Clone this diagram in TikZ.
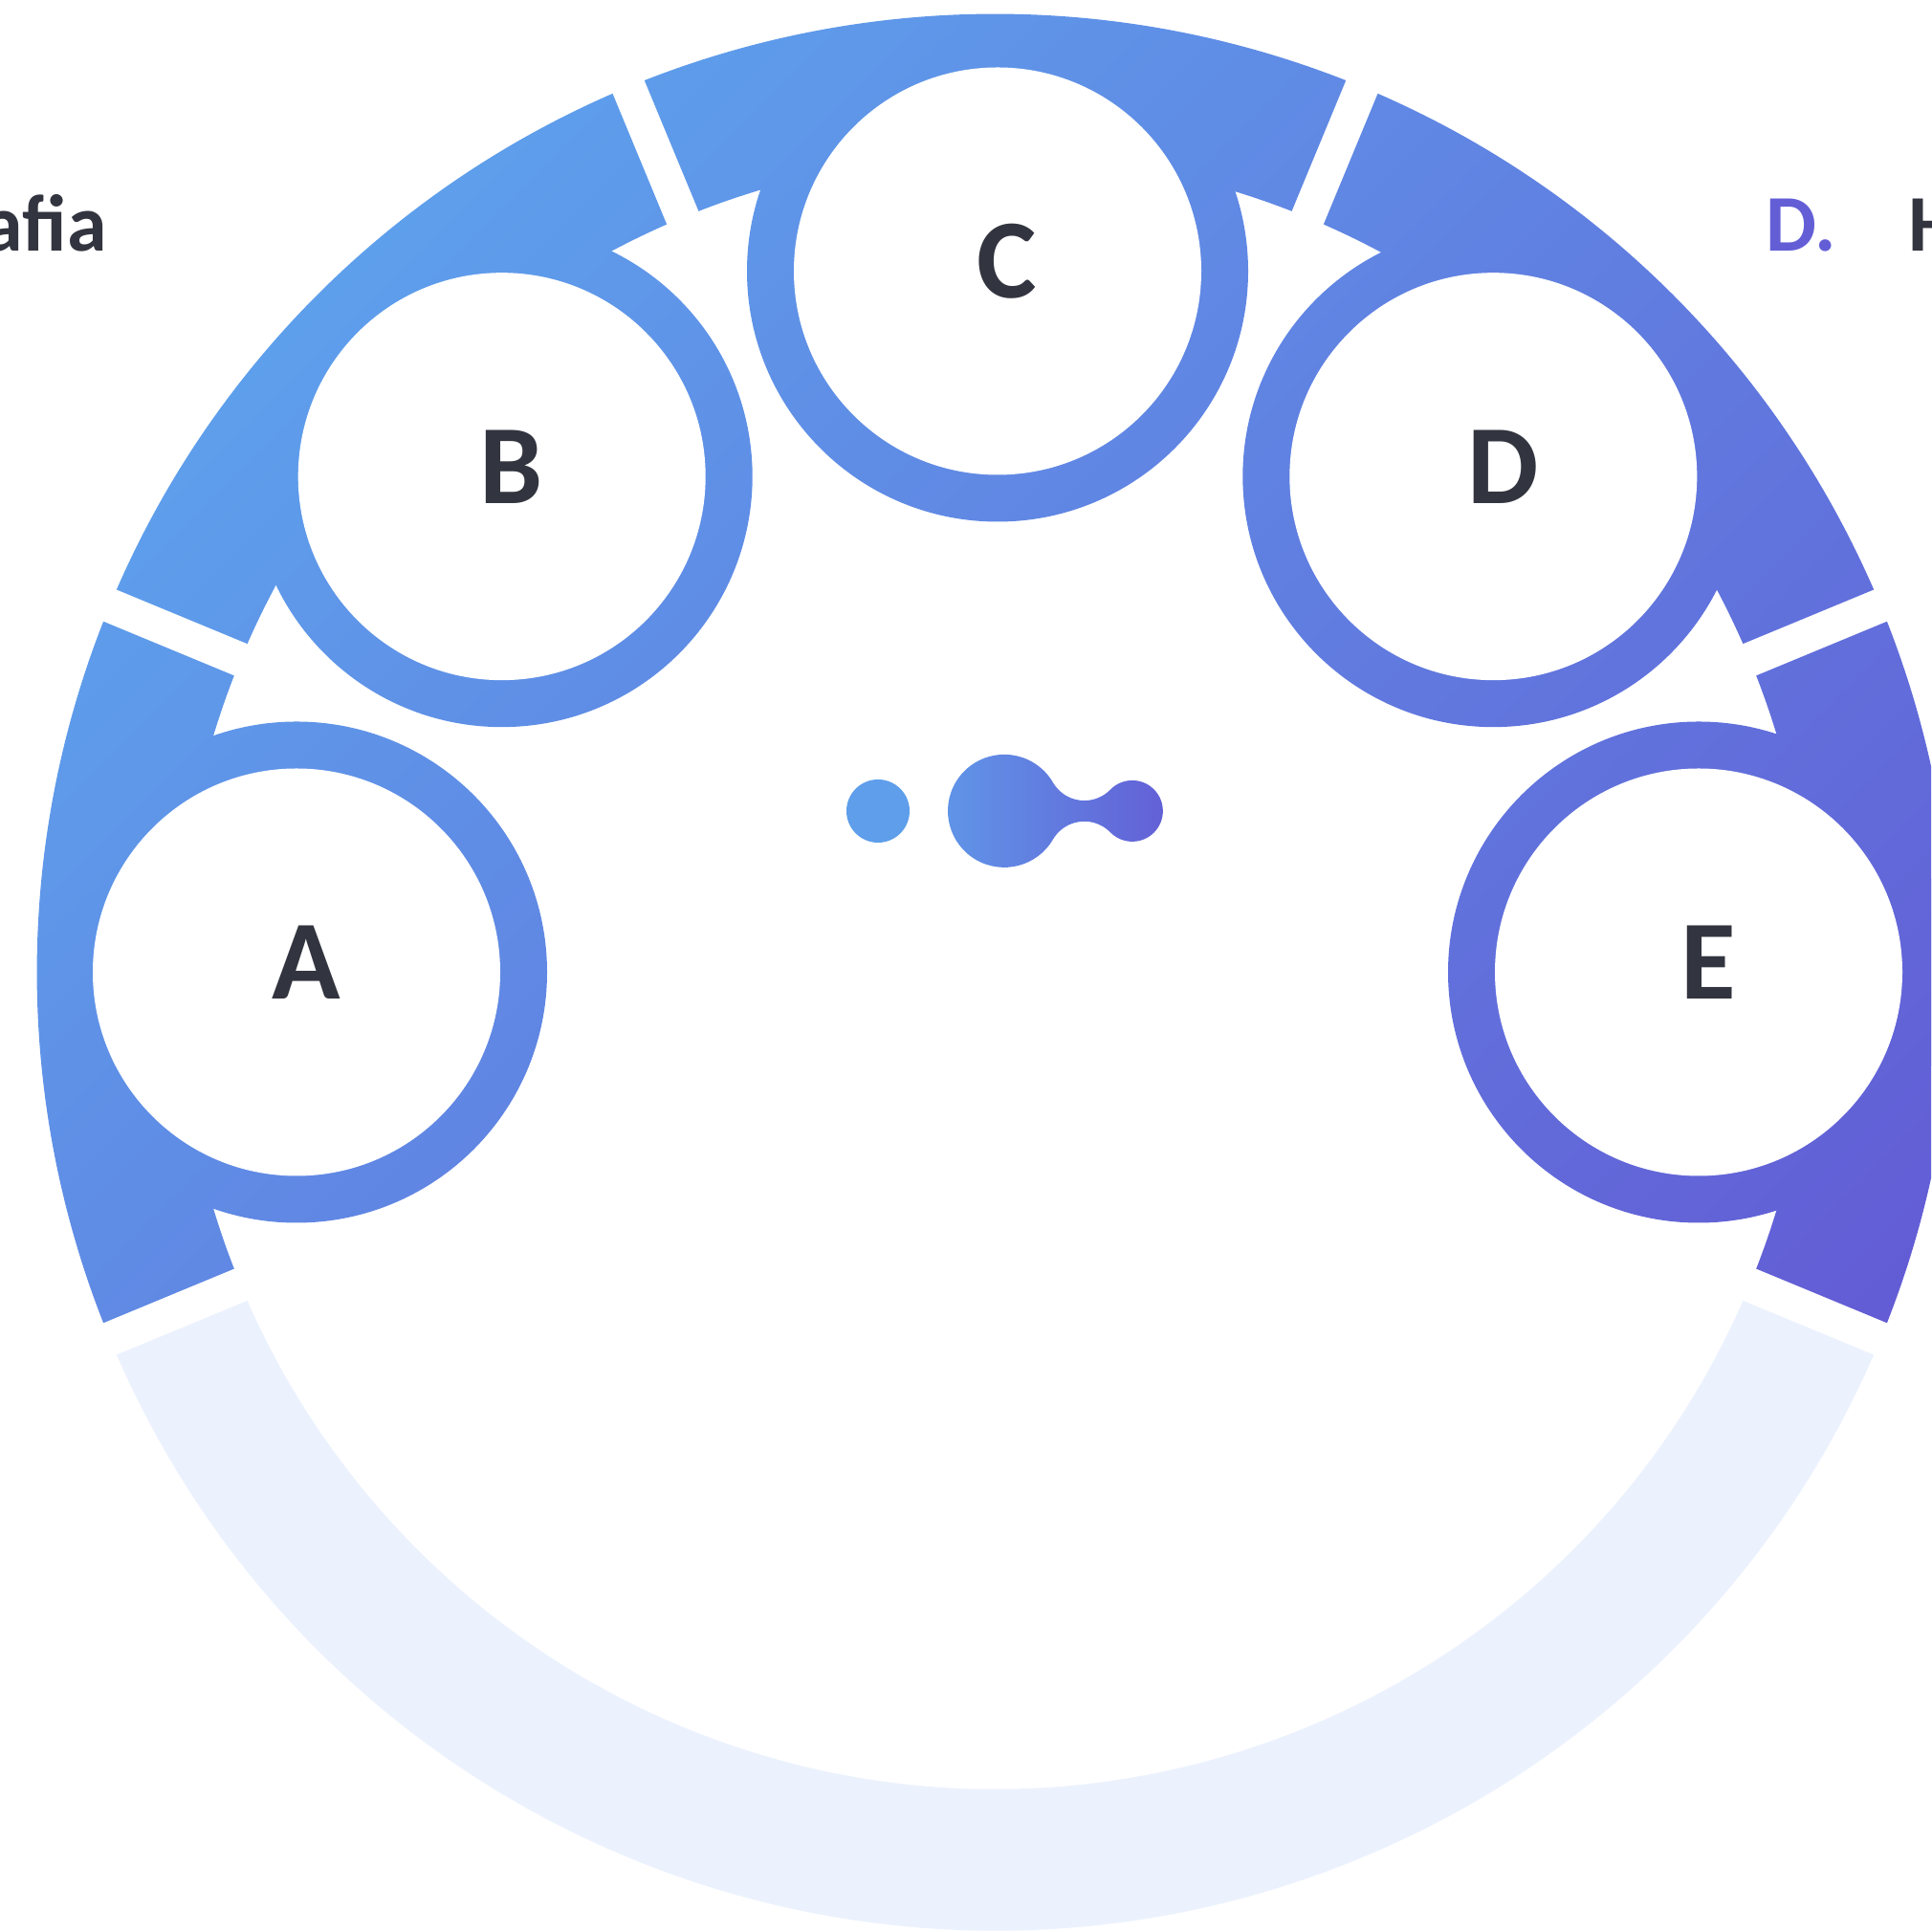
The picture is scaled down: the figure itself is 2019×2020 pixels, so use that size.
\documentclass[tikz,border=0pt]{standalone}
\usepackage{fontspec}
\setmainfont{Carlito}
\definecolor{gA}{RGB}{94,160,236}
\definecolor{gB}{RGB}{99,90,212}
\definecolor{ink}{RGB}{50,53,63}
\definecolor{accent}{RGB}{99,94,214}
\definecolor{pale}{RGB}{236,242,253}
\definecolor{logoA}{RGB}{94,158,234}
\definecolor{logoM}{RGB}{96,150,232}
\definecolor{logoB}{RGB}{99,96,214}
\tikzset{
  ringshade/.style={top color=gA, bottom color=gB, shading angle=45},
  letter/.style={font=\fontsize{118}{118}\selectfont\bfseries, text=ink, inner sep=0pt, anchor=base},
  label/.style={font=\fontsize{84}{84}\selectfont\bfseries, inner sep=0pt},
}
\begin{document}
\begin{tikzpicture}[x=1pt,y=1pt]
\useasboundingbox (0,0) rectangle (2019,2020);
\clip (0,0) rectangle (2019,2020);
% coloured ring segments
\foreach \a in {-22.5,22.5,67.5,112.5,157.5}{
  \begin{scope}
    \clip[shift={(1040.5,1003.5)}] ({\a+1.03}:1002) arc[start angle={\a+1.03}, end angle={\a+45-1.03}, radius=1002]
      -- ({\a+45-1.21}:854) arc[start angle={\a+45-1.21}, end angle={\a+1.21}, radius=854] -- cycle;
    \shade[ringshade] (0,0) rectangle (2019,2020);
  \end{scope}
}
% pale bottom segment
\fill[pale, shift={(1040.5,1003.5)}] ({202.5+1.03}:1002) arc[start angle={202.5+1.03}, end angle={337.5-1.03}, radius=1002]
   -- ({337.5-1.21}:854) arc[start angle={337.5-1.21}, end angle={202.5+1.21}, radius=854] -- cycle;
% node circles
\foreach \a/\l in {180/A,135/B,90/C,45/D,0/E}{
  \begin{scope}
    \clip[shift={(1043,1003.5)}] (\a:733) circle[radius=262];
    \shade[ringshade] (0,0) rectangle (2019,2020);
  \end{scope}
  \fill[white, shift={(1043,1003.5)}] (\a:733) circle[radius=213];
  \node[letter] (n\l) at ([shift={(1053,975)}]\a:733) {\l};
}
% central logo
\fill[logoA] (918,1172) circle[radius=33];
\shade[left color=logoM, right color=logoB]
  (1100.94,1201.77) arc[start angle=210.3, end angle=315.7, radius=38]
  arc[start angle=135.7, end angle=-135.7, radius=32]
  arc[start angle=44.3, end angle=149.7, radius=38]
  arc[start angle=-30.3, end angle=-329.7, radius=59] -- cycle;
% texts cut by the picture's edges, as in the reference
\node[label, text=ink, anchor=base east] (tl) at (112,1757) {af{}ia};
\node[label, text=accent, anchor=base west] (tr) at (1846,1757) {D.};
\node[label, text=ink, anchor=base west] (tr2) at (1995,1757) {H};
\end{tikzpicture}
\end{document}
